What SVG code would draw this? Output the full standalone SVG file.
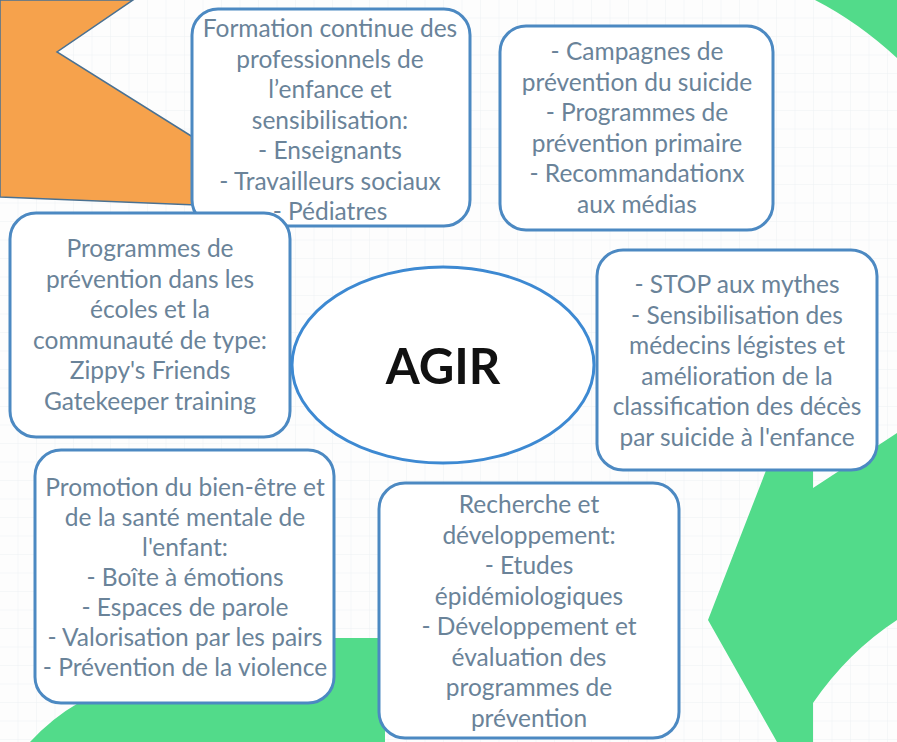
<svg xmlns="http://www.w3.org/2000/svg" width="897" height="742" viewBox="0 0 897 742">
<defs>
<pattern id="grid" width="18.5" height="18.5" patternUnits="userSpaceOnUse">
<path d="M18.5 0V18.5M0 18.5H18.5" fill="none" stroke="#edf1f4" stroke-width="1"/>
</pattern>
<style>
.box{fill:#ffffff;stroke:#4c89c2;stroke-width:3}
.t{font-family:Lato,"Open Sans","Liberation Sans",sans-serif;font-size:24.5px;fill:#6a8399;text-anchor:middle}
.green{fill:#52db8a}
</style>
</defs>
<rect width="897" height="742" fill="#fdfdfd"/>
<rect width="897" height="742" fill="url(#grid)"/>
<g id="background">
<path d="M0,0 L133,0 L57,52 L196,139 L196,205 L0,197 Z" fill="#f6a24c" stroke="#4a7192" stroke-width="1.5"/>
<path class="green" d="M815,0 Q858,22 897,58 L897,0 Z"/>
<path class="green" d="M772,455 L708,620 L777,742 L813,742 L813,703 Q848,652 897,620 L897,433 L813,488 L813,455 Z"/>
<path class="green" d="M30,742 Q52,718 80,702 L90,638 L385,638 L385,742 Z"/>
</g>
<g id="connectors"></g>
<g id="formation">
<rect class="box" x="192" y="9" width="278" height="217" rx="26"/>
<text class="t" x="330" y="37">Formation continue des</text>
<text class="t" x="330" y="67.5">professionnels de</text>
<text class="t" x="330" y="98">l’enfance et</text>
<text class="t" x="330" y="128.5">sensibilisation:</text>
<text class="t" x="330" y="159">- Enseignants</text>
<text class="t" x="330" y="189.5">- Travailleurs sociaux</text>
<text class="t" x="330" y="220">- Pédiatres</text>
</g>
<g id="programmes">
<rect class="box" x="10" y="213" width="280" height="224" rx="26"/>
<text class="t" x="150" y="257">Programmes de</text>
<text class="t" x="150" y="287.5">prévention dans les</text>
<text class="t" x="150" y="318">écoles et la</text>
<text class="t" x="150" y="348.5">communauté de type:</text>
<text class="t" x="150" y="379">Zippy's Friends</text>
<text class="t" x="150" y="409.5">Gatekeeper training</text>
</g>
<g id="campagnes">
<rect class="box" x="500" y="26" width="273" height="204" rx="26"/>
<text class="t" x="637" y="60">- Campagnes de</text>
<text class="t" x="637" y="90.5">prévention du suicide</text>
<text class="t" x="637" y="121">- Programmes de</text>
<text class="t" x="637" y="151.5">prévention primaire</text>
<text class="t" x="637" y="182">- Recommandationx</text>
<text class="t" x="637" y="212.5">aux médias</text>
</g>
<g id="stop">
<rect class="box" x="597" y="250" width="280" height="220" rx="26"/>
<text class="t" x="737" y="293">- STOP aux mythes</text>
<text class="t" x="737" y="323.5">- Sensibilisation des</text>
<text class="t" x="737" y="354">médecins légistes et</text>
<text class="t" x="737" y="384.5">amélioration de la</text>
<text class="t" x="737" y="415">classification des décès</text>
<text class="t" x="737" y="445.5">par suicide à l'enfance</text>
</g>
<g id="promotion">
<rect class="box" x="35" y="450" width="299" height="253" rx="26"/>
<text class="t" x="185" y="496">Promotion du bien-être et</text>
<text class="t" x="185" y="526">de la santé mentale de</text>
<text class="t" x="185" y="556">l'enfant:</text>
<text class="t" x="185" y="586">- Boîte à émotions</text>
<text class="t" x="185" y="616">- Espaces de parole</text>
<text class="t" x="185" y="646">- Valorisation par les pairs</text>
<text class="t" x="185" y="676">- Prévention de la violence</text>
</g>
<g id="recherche">
<rect class="box" x="379" y="483" width="300" height="255" rx="26"/>
<text class="t" x="529" y="513">Recherche et</text>
<text class="t" x="529" y="543.5">développement:</text>
<text class="t" x="529" y="574">- Etudes</text>
<text class="t" x="529" y="604.5">épidémiologiques</text>
<text class="t" x="529" y="635">- Développement et</text>
<text class="t" x="529" y="665.5">évaluation des</text>
<text class="t" x="529" y="696">programmes de</text>
<text class="t" x="529" y="726.5">prévention</text>
</g>
<g id="agir">
<ellipse cx="443" cy="365" rx="151" ry="98" fill="#ffffff" stroke="#3d89d2" stroke-width="3"/>
<text x="443" y="384" font-family="Lato,'Open Sans','Liberation Sans',sans-serif" font-size="49" font-weight="bold" fill="#111111" text-anchor="middle">AGIR</text>
</g>
</svg>
